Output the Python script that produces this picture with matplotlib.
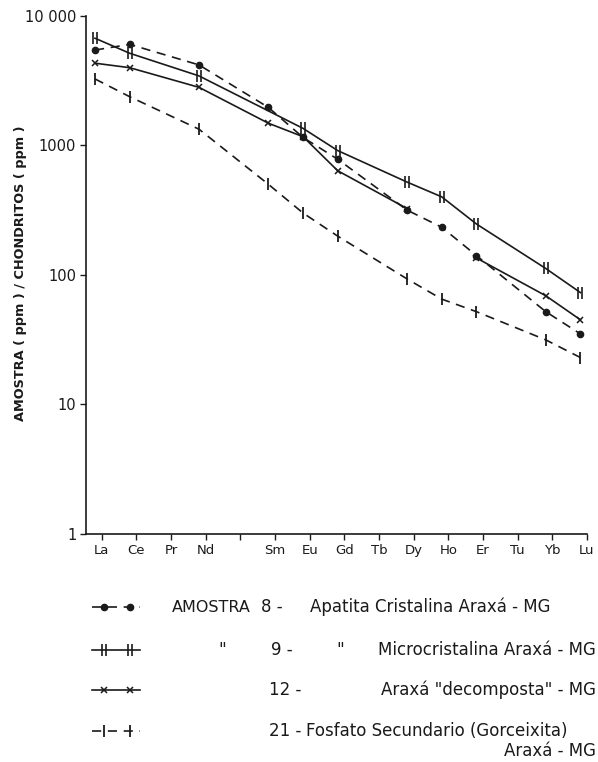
"""
Padrão de terras raras normalizado a condritos - amostras de Araxá (MG)
Gráfico log (em cima) | chave desenhada à mão (em baixo)
"""

import numpy as np
import matplotlib
matplotlib.use("Agg")
import matplotlib.pyplot as plt
from matplotlib.path import Path

matplotlib.rcParams["font.family"] = ["DejaVu Sans"]
matplotlib.rcParams["font.size"] = 10

INK = "#1a1a1a"

# ─── dados ─────────────────────────────────────────────────────────────────
ELEMENTS    = ["La", "Ce", "Pr", "Nd", "Pm", "Sm", "Eu", "Gd", "Tb",
               "Dy", "Ho", "Er", "Tu", "Yb", "Lu"]
TICK_LABELS = ["La", "Ce", "Pr", "Nd", "", "Sm", "Eu", "Gd", "Tb",
               "Dy", "Ho", "Er", "Tu", "Yb", "Lu"]

# amostra 8 - apatita cristalina
AP8_EL  = ["La", "Ce", "Nd", "Sm", "Eu", "Gd", "Dy", "Ho", "Er", "Yb", "Lu"]
AP8_VAL = [5430, 6010, 4170, 1960, 1150, 780, 316, 233, 141, 52, 35]

# amostra 9 - microcristalina (sem Sm)
MC9_EL  = ["La", "Ce", "Nd", "Eu", "Gd", "Dy", "Ho", "Er", "Yb", "Lu"]
MC9_VAL = [6700, 5130, 3430, 1350, 910, 520, 400, 247, 112, 73]

# amostra 12 - "decomposta" (linha interrompida em Ho)
DC12_EL  = ["La", "Ce", "Nd", "Sm", "Eu", "Gd", "Dy", "Ho", "Er", "Yb", "Lu"]
DC12_VAL = [4300, 3970, 2800, 1480, 1165, 636, 325, np.nan, 135, 69, 45]

# amostra 21 - fosfato secundário (gorceixita)
FS21_EL  = ["La", "Ce", "Nd", "Sm", "Eu", "Gd", "Dy", "Ho", "Er", "Yb", "Lu"]
FS21_VAL = [3250, 2370, 1330, 500, 300, 199, 93, 65, 52, 31.5, 23]

Y_TICKS  = [1, 10, 100, 1000, 10000]
Y_LABELS = ["1", "10", "100", "1000", "10 000"]
# ────────────────────────────────────────────────────────────────────────────

# marcador "||"
DOUBLE_BAR = Path([(-0.28, -1), (-0.28, 1), (0.28, -1), (0.28, 1)],
                  [Path.MOVETO, Path.LINETO, Path.MOVETO, Path.LINETO])

STYLES = {
    "ap8":  dict(ls=(0, (5.5, 4)), marker="o", ms=4.5, mfc=INK, mec=INK),
    "mc9":  dict(ls="-", marker=DOUBLE_BAR, ms=8, mew=1.2),
    "dc12": dict(ls="-", marker="x", ms=5, mew=1.1),
    "fs21": dict(ls=(0, (5.5, 4)), marker="|", ms=8, mew=1.3),
}


def xpos(names):
    return np.array([ELEMENTS.index(n) + 1 for n in names], dtype=float)


fig = plt.figure(figsize=(5.98, 7.62), dpi=100)
W, H = 598, 762

# eixo principal (coordenadas em pixels do original)
ax = fig.add_axes([86 / W, 1 - 534 / H, (587 - 86) / W, (534 - 15.7) / H])

series = [
    (AP8_EL, AP8_VAL, "ap8"),
    (MC9_EL, MC9_VAL, "mc9"),
    (DC12_EL, DC12_VAL, "dc12"),
    (FS21_EL, FS21_VAL, "fs21"),
]
for el, val, key in series:
    ax.plot(xpos(el), val, color=INK, lw=1.2, **STYLES[key])

ax.set_yscale("log")
ax.set_ylim(1, 10000)
ax.set_xlim(0.74, 15.19)
ax.set_yticks(Y_TICKS)
ax.set_yticklabels(Y_LABELS, fontsize=10.5)
ax.yaxis.set_minor_locator(matplotlib.ticker.NullLocator())
# no original os traços do eixo x ficam um pouco à direita dos pontos
ax.set_xticks(np.arange(1, 16) + 0.19)
ax.set_xticklabels(TICK_LABELS, fontsize=9.5)
ax.tick_params(axis="both", direction="out", length=4, width=1, color=INK,
               labelcolor=INK, pad=3)
for side in ("top", "right"):
    ax.spines[side].set_visible(False)
for side in ("left", "bottom"):
    ax.spines[side].set_linewidth(1.2)
    ax.spines[side].set_color(INK)

fig.text(21 / W, 1 - 273 / H, "AMOSTRA ( ppm ) / CHONDRITOS ( ppm )",
         rotation=90, ha="center", va="center", fontsize=9.3,
         fontweight="bold", color=INK)

# ─── chave ────────────────────────────────────────────────────────────────
key = fig.add_axes([0, 0, 1, 1 - 560 / H])
key.set_xlim(0, W)
key.set_ylim(H, 560)
key.axis("off")

rows_y = [607, 650, 690, 731]
for (el, val, k), y in zip(series, rows_y):
    st = dict(STYLES[k])
    key.plot([92, 140], [y, y], color=INK, lw=1.2, ls=st.pop("ls"),
             marker="none")
    key.plot([104, 130], [y, y], color=INK, lw=0, **st)

txt = dict(fontsize=12, color=INK, va="center")
key.text(172, 607, "AMOSTRA", fontsize=11.5, color=INK, va="center")
key.text(261, 607, "8 -", **txt)
key.text(310, 607, "Apatita Cristalina Araxá - MG", **txt)

key.text(218, 650, '"', **txt)
key.text(271, 650, "9 -", **txt)
key.text(336, 650, '"', **txt)
key.text(596, 650, "Microcristalina Araxá - MG", ha="right", **txt)

key.text(269, 690, "12 -", **txt)
key.text(596, 690, 'Araxá "decomposta" - MG', ha="right", **txt)

key.text(269, 731, "21 -", **txt)
key.text(306, 731, "Fosfato Secundario (Gorceixita)", **txt)
key.text(596, 751, "Araxá - MG", ha="right", **txt)

fig.savefig("out.png", dpi=100)
plt.close(fig)
